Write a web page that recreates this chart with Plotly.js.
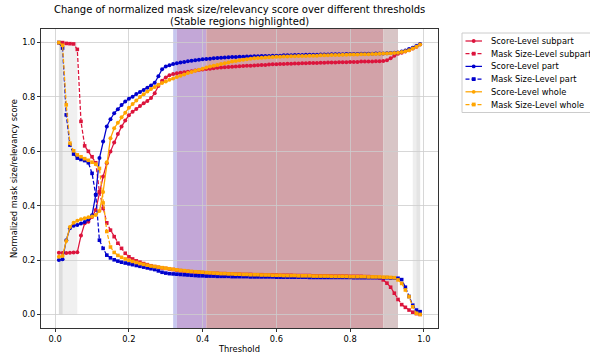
<!DOCTYPE html>
<html>
<head>
<meta charset="utf-8">
<script src="https://cdn.plot.ly/plotly-3.0.1.min.js"></script>
<style>html,body{margin:0;padding:0;background:#fff;}#chart{width:590px;height:356px;}</style>
</head>
<body>
<div id="chart"></div>
<script>
// ---------------- data ----------------
const thresholds = [
0.01,0.02,0.03,0.04,0.05,0.06,0.07,0.08,0.09,0.10,
0.11,0.12,0.13,0.14,0.15,0.16,0.17,0.18,0.19,0.20,
0.21,0.22,0.23,0.24,0.25,0.26,0.27,0.28,0.29,0.30,
0.31,0.32,0.33,0.34,0.35,0.36,0.37,0.38,0.39,0.40,
0.41,0.42,0.43,0.44,0.45,0.46,0.47,0.48,0.49,0.50,
0.51,0.52,0.53,0.54,0.55,0.56,0.57,0.58,0.59,0.60,
0.61,0.62,0.63,0.64,0.65,0.66,0.67,0.68,0.69,0.70,
0.71,0.72,0.73,0.74,0.75,0.76,0.77,0.78,0.79,0.80,
0.81,0.82,0.83,0.84,0.85,0.86,0.87,0.88,0.89,0.90,
0.91,0.92,0.93,0.94,0.95,0.96,0.97,0.98,0.99];

const scoreSubpart = [
0.227,0.226,0.226,0.227,0.228,0.229,0.290,0.335,0.341,0.358,
0.384,0.448,0.507,0.556,0.599,0.632,0.664,0.691,0.713,0.733,
0.746,0.756,0.767,0.777,0.785,0.796,0.814,0.840,0.860,0.872,
0.880,0.884,0.887,0.889,0.891,0.893,0.895,0.897,0.899,0.901,
0.903,0.904,0.906,0.907,0.908,0.909,0.910,0.911,0.912,0.913,
0.914,0.915,0.915,0.916,0.917,0.918,0.918,0.919,0.920,0.920,
0.921,0.921,0.922,0.922,0.923,0.923,0.924,0.924,0.925,0.925,
0.925,0.926,0.926,0.927,0.927,0.927,0.928,0.928,0.928,0.929,
0.929,0.929,0.930,0.930,0.930,0.930,0.931,0.931,0.932,0.935,
0.942,0.952,0.959,0.963,0.967,0.972,0.978,0.985,0.993];

const maskSubpart = [
1.000,1.000,0.997,0.996,0.995,0.975,0.710,0.620,0.600,0.580,
0.558,0.451,0.390,0.337,0.310,0.286,0.262,0.243,0.225,0.212,
0.204,0.197,0.192,0.187,0.183,0.179,0.176,0.173,0.171,0.169,
0.167,0.165,0.163,0.161,0.160,0.158,0.157,0.156,0.155,0.154,
0.153,0.152,0.151,0.151,0.150,0.150,0.149,0.149,0.148,0.148,
0.147,0.147,0.147,0.146,0.146,0.146,0.145,0.145,0.145,0.145,
0.144,0.144,0.144,0.144,0.143,0.143,0.143,0.143,0.143,0.142,
0.142,0.142,0.142,0.142,0.141,0.141,0.141,0.141,0.141,0.140,
0.140,0.140,0.140,0.139,0.139,0.138,0.137,0.135,0.127,0.115,
0.100,0.078,0.055,0.036,0.026,0.016,0.008,0.003,0.000];

const scorePart = [
0.200,0.203,0.273,0.317,0.326,0.329,0.334,0.340,0.349,0.365,
0.440,0.575,0.636,0.691,0.718,0.740,0.755,0.770,0.783,0.793,
0.801,0.811,0.818,0.826,0.834,0.842,0.852,0.876,0.902,0.912,
0.917,0.921,0.924,0.927,0.929,0.931,0.933,0.935,0.937,0.939,
0.940,0.941,0.942,0.943,0.944,0.945,0.946,0.947,0.947,0.948,
0.948,0.949,0.949,0.950,0.950,0.951,0.951,0.951,0.952,0.952,
0.952,0.953,0.953,0.953,0.954,0.954,0.954,0.955,0.955,0.955,
0.955,0.956,0.956,0.956,0.957,0.957,0.957,0.957,0.958,0.958,
0.958,0.958,0.959,0.959,0.959,0.959,0.960,0.960,0.960,0.961,
0.962,0.963,0.964,0.967,0.971,0.976,0.981,0.987,0.995];

const maskPart = [
1.000,0.980,0.734,0.623,0.590,0.575,0.570,0.566,0.558,0.519,
0.440,0.273,0.243,0.218,0.208,0.201,0.196,0.192,0.189,0.186,
0.183,0.180,0.177,0.174,0.171,0.168,0.165,0.160,0.155,0.152,
0.150,0.149,0.148,0.147,0.146,0.145,0.144,0.143,0.142,0.142,
0.141,0.141,0.141,0.140,0.140,0.140,0.140,0.139,0.139,0.139,
0.139,0.139,0.138,0.138,0.138,0.138,0.138,0.138,0.138,0.137,
0.137,0.137,0.137,0.137,0.137,0.137,0.137,0.137,0.136,0.136,
0.136,0.136,0.136,0.136,0.136,0.136,0.136,0.136,0.136,0.136,
0.135,0.135,0.135,0.135,0.135,0.135,0.135,0.135,0.135,0.135,
0.134,0.134,0.133,0.128,0.100,0.066,0.034,0.016,0.010];

const scoreWhole = [
0.212,0.215,0.270,0.322,0.337,0.345,0.350,0.354,0.357,0.360,
0.366,0.380,0.450,0.560,0.648,0.685,0.705,0.725,0.742,0.760,
0.774,0.787,0.800,0.810,0.820,0.829,0.837,0.845,0.851,0.857,
0.863,0.868,0.873,0.878,0.883,0.888,0.892,0.896,0.900,0.904,
0.908,0.912,0.915,0.918,0.921,0.924,0.927,0.930,0.932,0.935,
0.937,0.939,0.941,0.942,0.943,0.944,0.945,0.946,0.947,0.948,
0.948,0.949,0.949,0.950,0.950,0.951,0.951,0.951,0.952,0.952,
0.952,0.953,0.953,0.953,0.954,0.954,0.954,0.955,0.955,0.956,
0.956,0.956,0.957,0.957,0.957,0.958,0.958,0.959,0.960,0.960,
0.961,0.962,0.963,0.965,0.968,0.972,0.978,0.985,0.993];

const maskWhole = [
1.000,0.990,0.771,0.630,0.602,0.587,0.580,0.573,0.567,0.560,
0.553,0.537,0.410,0.305,0.248,0.228,0.217,0.210,0.204,0.199,
0.195,0.191,0.187,0.184,0.181,0.178,0.176,0.174,0.172,0.170,
0.168,0.166,0.164,0.162,0.161,0.159,0.158,0.157,0.156,0.155,
0.154,0.153,0.152,0.151,0.150,0.150,0.149,0.149,0.148,0.148,
0.147,0.147,0.146,0.146,0.146,0.145,0.145,0.145,0.144,0.144,
0.144,0.143,0.143,0.143,0.143,0.142,0.142,0.142,0.142,0.141,
0.141,0.141,0.141,0.141,0.140,0.140,0.140,0.140,0.140,0.139,
0.139,0.139,0.139,0.139,0.138,0.138,0.138,0.138,0.137,0.137,
0.136,0.135,0.127,0.114,0.090,0.065,0.028,0.004,0.000];

const seriesNames = ["Score-Level subpart","Mask Size-Level subpart","Score-Level part",
                     "Mask Size-Level part","Score-Level whole","Mask Size-Level whole"];
const seriesValues = [scoreSubpart, maskSubpart, scorePart, maskPart, scoreWhole, maskWhole];

// stable regions (threshold ranges)
const stableStart = [0.32, 0.33, 0.41, 0.89];
const stableEnd   = [0.33, 0.41, 0.89, 0.93];
const edgeStart = [0.01, 0.01, 0.97, 0.98];
const edgeEnd   = [0.06, 0.02, 0.99, 0.99];

const tickVals = [0.0, 0.2, 0.4, 0.6, 0.8, 1.0];
const tickText = ["0.0", "0.2", "0.4", "0.6", "0.8", "1.0"];

// ---------------- styles ----------------
const seriesColors = ["#dc143c","#dc143c","#0000cd","#0000cd","#ffa500","#ffa500"];
const isMask = [false,true,false,true,false,true];
const stableColors = ["#c7c7ef","#c3a7d7","#d2a2a8","#d8c5c6"];
const edgeColors = ["#f0f0f0","#dcdcdc","#eeeeee","#e4e4e4"];

const FONT = "DejaVu Sans";
const W = 590, H = 356;
const M = {l:41, r:152, t:29, b:28};
const PW = W - M.l - M.r, PH = H - M.t - M.b;
const px2x = p => (p - M.l) / PW;
const py2y = p => (H - M.b - p) / PH;

const traces = seriesValues.map((vals, i) => ({
  x: thresholds, y: vals, name: seriesNames[i], type: "scatter",
  mode: "lines+markers", showlegend: false, hoverinfo: "skip",
  line: {color: seriesColors[i], width: 1.25, dash: isMask[i] ? "4px,2px" : "solid"},
  marker: {color: seriesColors[i], size: isMask[i] ? 3.6 : 4, symbol: isMask[i] ? "square" : "circle", line:{width:0}}
}));

const shapes = [];
edgeStart.forEach((s, i) => shapes.push({
  type: "rect", xref: "x", yref: "y", x0: s, x1: edgeEnd[i], y0: 0, y1: 1,
  fillcolor: edgeColors[i], line: {width: 0}, layer: "below"
}));
stableStart.forEach((s, i) => shapes.push({
  type: "rect", xref: "x", yref: "paper", x0: s, x1: stableEnd[i], y0: 0, y1: 1,
  fillcolor: stableColors[i], line: {width: 0}, layer: "below"
}));

// custom legend (matplotlib-like compact layout)
const annotations = [];
const lgLeft = 462, lgTop = 33, rowH = 12.7, firstRow = 41;
shapes.push({type:"rect", xref:"paper", yref:"paper",
  x0: px2x(lgLeft), x1: px2x(640), y0: py2y(lgTop), y1: py2y(firstRow + 5*rowH + 8),
  line:{color:"#cccccc", width:1}, fillcolor:"rgba(255,255,255,0.8)", layer:"above"});
seriesNames.forEach((nm, i) => {
  const cy = firstRow + i*rowH;
  shapes.push({type:"line", xref:"paper", yref:"paper",
    x0: px2x(465.5), x1: px2x(482), y0: py2y(cy), y1: py2y(cy),
    line:{color: seriesColors[i], width:1.25, dash: isMask[i] ? "4px,2px" : "solid"}, layer:"above"});
  const r = 1.9;
  shapes.push({type: isMask[i] ? "rect" : "circle", xref:"paper", yref:"paper",
    x0: px2x(473.7 - r), x1: px2x(473.7 + r), y0: py2y(cy + r), y1: py2y(cy - r),
    fillcolor: seriesColors[i], line:{width:0}, layer:"above"});
  annotations.push({xref:"paper", yref:"paper", x: px2x(488.5), y: py2y(cy),
    xanchor:"left", yanchor:"middle", showarrow:false, text: nm,
    font:{family: FONT, size: 8.3, color:"#000"}});
});

// title as two annotation lines for exact placement
const titleLines = ["Change of normalized mask size/relevancy score over different thresholds",
                    "(Stable regions highlighted)"];
titleLines.forEach((t, i) => annotations.push({xref:"paper", yref:"paper", x: 0.5,
  y: py2y(9.5 + i*12.3), xanchor:"center", yanchor:"middle", showarrow:false, text: t,
  font:{family: FONT, size: 10, color:"#000"}}));

const axisCommon = {
  tickvals: tickVals, ticktext: tickText, ticks: "outside", ticklen: 3, tickwidth: 1,
  tickcolor: "#333", tickfont: {family: FONT, size: 8.3, color: "#000"},
  showgrid: true, gridcolor: "#cdcdcd", gridwidth: 0.8, zeroline: false,
  showline: true, mirror: true, linecolor: "#333", linewidth: 1, automargin: false
};

const layout = {
  width: W, height: H, margin: M,
  paper_bgcolor: "#fff", plot_bgcolor: "#fff",
  font: {family: FONT, size: 8.3, color: "#000"},
  xaxis: Object.assign({}, axisCommon, {range: [-0.0385, 1.0385],
    title: {text: "Threshold", font: {family: FONT, size: 8.3, color: "#000"}, standoff: 3}}),
  yaxis: Object.assign({}, axisCommon, {range: [-0.05, 1.05],
    title: {text: "Normalized mask size/relevancy score", font: {family: FONT, size: 8.3, color: "#000"}, standoff: 3}}),
  shapes: shapes, annotations: annotations, showlegend: false
};

Plotly.newPlot("chart", traces, layout, {staticPlot: true, displayModeBar: false});
</script>
</body>
</html>
